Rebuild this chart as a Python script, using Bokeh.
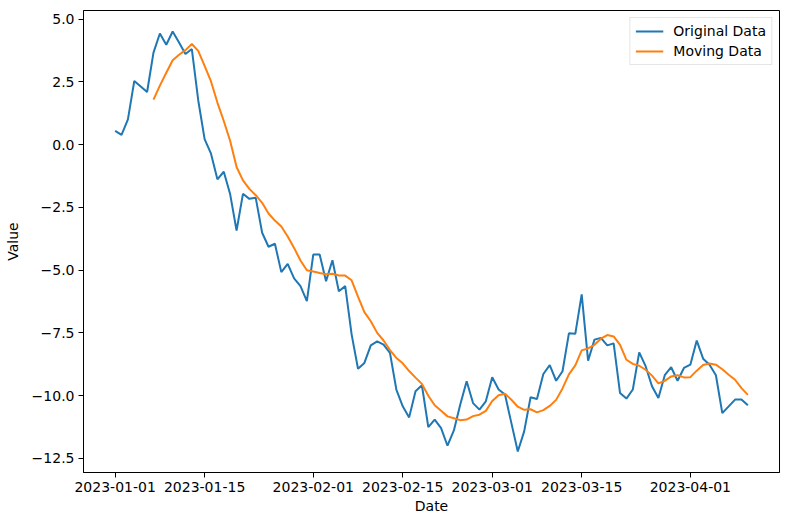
import pandas as pd
from bokeh.plotting import figure
from bokeh.models import (Range1d, FixedTicker, DatetimeTickFormatter,
                          CustomJSTickFormatter, Legend, LegendItem, ColumnDataSource)
from bokeh.embed import file_html
from bokeh.resources import INLINE

start_date = "2023-01-01"
window = 7
original_values = [
    0.55, 0.39, 1.01, 2.54, 2.32, 2.10, 3.67, 4.43, 3.98, 4.51,
    4.07, 3.61, 3.81, 1.77, 0.22, -0.36, -1.38, -1.08, -1.98, -3.42,
    -1.96, -2.16, -2.12, -3.51, -4.07, -3.95, -5.08, -4.75, -5.33, -5.64,
    -6.24, -4.38, -4.38, -5.44, -4.61, -5.84, -5.64, -7.56, -8.93, -8.70,
    -8.00, -7.84, -7.97, -8.30, -9.76, -10.43, -10.87, -9.83, -9.59, -11.26,
    -10.96, -11.30, -12.00, -11.39, -10.36, -9.43, -10.30, -10.56, -10.23, -9.27,
    -9.76, -9.96, -11.10, -12.23, -11.43, -10.07, -10.14, -9.14, -8.79, -9.41,
    -9.03, -7.52, -7.54, -5.97, -8.61, -7.77, -7.70, -8.00, -7.92, -9.90,
    -10.12, -9.76, -8.28, -8.83, -9.63, -10.10, -9.19, -8.87, -9.41, -8.90,
    -8.77, -7.81, -8.53, -8.77, -9.19, -10.70, -10.43, -10.16, -10.16, -10.39,
]
tick_dates = ["2023-01-01", "2023-01-15", "2023-02-01", "2023-02-15",
              "2023-03-01", "2023-03-15", "2023-04-01"]
y_ticks = [5.0, 2.5, 0.0, -2.5, -5.0, -7.5, -10.0, -12.5]

dates = pd.date_range(start_date, periods=len(original_values), freq="D")
orig = pd.Series(original_values, index=dates)
moving = orig.rolling(window).mean()

src = ColumnDataSource(dict(date=dates, orig=orig.values, moving=moving.values))

FONT = "DejaVu Sans"
FS = "14px"

# matplotlib-style 5% margins
t0 = dates[0].value / 1e6
t1 = dates[-1].value / 1e6
span = t1 - t0
ymin, ymax = min(original_values), max(original_values)
yspan = ymax - ymin

p = figure(width=789, height=525, output_backend="svg", toolbar_location=None,
           x_axis_type="datetime",
           x_range=Range1d(t0 - 0.05 * span, t1 + 0.05 * span),
           y_range=Range1d(ymin - 0.05 * yspan, ymax + 0.05 * yspan),
           min_border_left=83, min_border_right=10, min_border_top=10,
           min_border_bottom=53)
p.background_fill_color = "white"
p.border_fill_color = "white"
p.outline_line_color = "black"
p.outline_line_width = 1
p.outline_line_alpha = 1
p.xgrid.visible = False
p.ygrid.visible = False

r1 = p.line("date", "orig", source=src, line_color="#1f77b4", line_width=2)
r2 = p.line("date", "moving", source=src, line_color="#ff7f0e", line_width=2)

tick_ms = [pd.Timestamp(d).value / 1e6 for d in tick_dates]
p.xaxis.ticker = FixedTicker(ticks=tick_ms)
p.xaxis.formatter = DatetimeTickFormatter(days="%Y-%m-%d", months="%Y-%m-%d",
                                          years="%Y-%m-%d", hours="%Y-%m-%d")
p.yaxis.ticker = FixedTicker(ticks=y_ticks)
p.yaxis.formatter = CustomJSTickFormatter(code="return tick.toFixed(1).replace('-', '\\u2212');")

for ax in (p.xaxis[0], p.yaxis[0]):
    ax.major_label_text_font = FONT
    ax.major_label_text_font_size = FS
    ax.major_label_text_color = "black"
    ax.axis_label_text_font = FONT
    ax.axis_label_text_font_size = FS
    ax.axis_label_text_font_style = "normal"
    ax.axis_label_text_color = "black"
    ax.major_tick_out = 5
    ax.major_tick_in = 0
    ax.minor_tick_out = 0
    ax.minor_tick_in = 0
    ax.major_tick_line_color = "black"
    ax.axis_line_color = "black"
    ax.major_label_standoff = 4

p.xaxis.axis_label = "Date"
p.yaxis.axis_label = "Value"
p.xaxis.axis_label_standoff = 3
p.yaxis.axis_label_standoff = 8

legend = Legend(items=[LegendItem(label="Original Data", renderers=[r1]),
                       LegendItem(label="Moving Data", renderers=[r2])],
                location="top_right")
legend.label_text_font = FONT
legend.label_text_font_size = FS
legend.label_text_color = "black"
legend.border_line_color = "#cccccc"
legend.border_line_width = 1
legend.background_fill_alpha = 0.8
legend.glyph_width = 28
legend.glyph_height = 14
legend.label_standoff = 10
legend.spacing = 4
legend.padding = 5
legend.margin = 7
p.add_layout(legend)

open("out.html", "w").write(file_html(p, INLINE))
